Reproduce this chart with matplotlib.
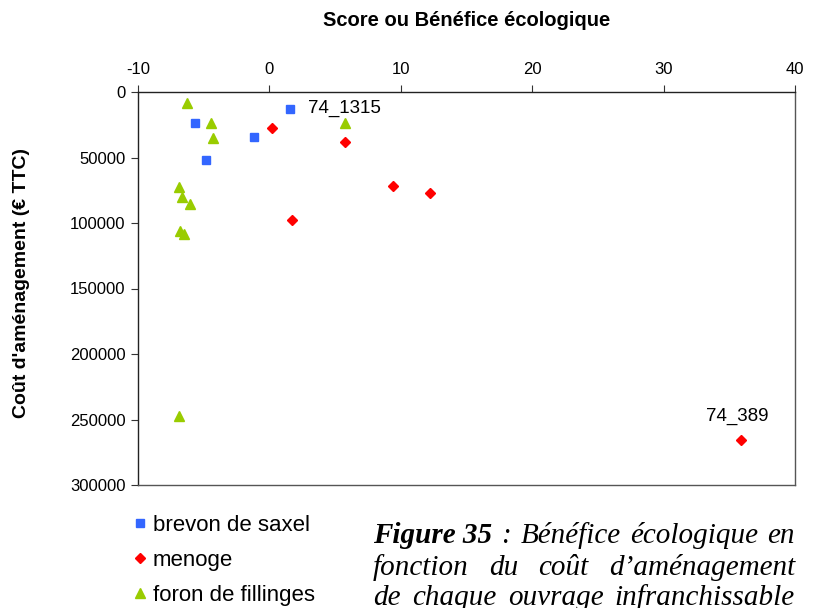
import matplotlib
matplotlib.use("Agg")
import matplotlib.pyplot as plt
from matplotlib.lines import Line2D

plt.rcParams['font.family'] = ['Liberation Sans', 'DejaVu Sans']
plt.rcParams['axes.unicode_minus'] = False

# score (x) and cost in euros (y) for each river
brevon_x = [-5.66, -1.15, -4.83, 1.59]
brevon_y = [23900, 34100, 51900, 12700]

menoge_x = [0.22, 5.73, 9.43, 1.74, 12.22, 35.9]
menoge_y = [27700, 37900, 71500, 97700, 77100, 265700]

foron_x = [-6.27, -4.42, -4.27, -6.9, -6.65, -6.04, -6.78, -6.5, 5.75, -6.88]
foron_y = [8600, 23400, 34900, 72800, 80400, 85500, 105900, 108400, 23400, 247300]

labelled = [("74_1315", brevon_x[3], brevon_y[3]), ("74_389", menoge_x[5], menoge_y[5])]

blue = "#3366ff"
red = "#ff0000"
green = "#99cc00"

fig = plt.figure(figsize=(8.15, 6.08), dpi=100)
ax = fig.add_axes([138/815, 1-485/608, (795-138)/815, (485-92)/608])

ax.plot(brevon_x, brevon_y, ls="none", marker="s", ms=6, color=blue, mec=blue)
ax.plot(menoge_x, menoge_y, ls="none", marker="D", ms=5.5, color=red, mec=red)
ax.plot(foron_x, foron_y, ls="none", marker="^", ms=7.5, color=green, mec=green)

ax.annotate(labelled[0][0], (labelled[0][1], labelled[0][2]), xytext=(13, 0),
            textcoords="offset points", ha="left", va="center", fontsize=13.5)
ax.annotate(labelled[1][0], (labelled[1][1], labelled[1][2]), xytext=(-3, 17),
            textcoords="offset points", ha="center", va="center", fontsize=13.5)

ax.set_xlim(-10, 40)
ax.set_ylim(300000, 0)
ax.set_xticks([-10, 0, 10, 20, 30, 40])
ax.set_yticks([0, 50000, 100000, 150000, 200000, 250000, 300000])
ax.xaxis.tick_top()
ax.xaxis.set_label_position("top")
ax.tick_params(axis="x", direction="out", length=5, labelsize=12, pad=6, color="#333333")
ax.tick_params(axis="y", direction="out", length=5, labelsize=12, pad=4, color="#333333")
for s in ax.spines.values():
    s.set_color("#555555")
    s.set_linewidth(1.0)
ax.spines["top"].set_color("#222222")
ax.spines["left"].set_color("#222222")

ax.set_xlabel("Score ou Bénéfice écologique", fontsize=14.5, fontweight="bold", labelpad=26)
fig.text(22/815, 1-283/608, "Coût d'aménagement (€ TTC)", rotation=90, fontsize=14,
         fontweight="bold", ha="center", va="center")

# legend under the plot
handles = [Line2D([], [], ls="none", marker="s", ms=6, color=blue),
           Line2D([], [], ls="none", marker="D", ms=5.5, color=red),
           Line2D([], [], ls="none", marker="^", ms=7.5, color=green)]
fig.legend(handles, ["brevon de saxel", "menoge", "foron de fillinges"],
           loc="upper left", bbox_to_anchor=(134/815, 1-515/608), frameon=False,
           fontsize=16, handlelength=0.5, handletextpad=0.35, labelspacing=0.62,
           borderaxespad=0, borderpad=0)

# justified italic caption on the right
lines = [[("Figure 35", "bold"), (":", "normal"), ("Bénéfice", "normal"), ("écologique", "normal"), ("en", "normal")],
         [("fonction", "normal"), ("du", "normal"), ("coût", "normal"), ("d\u2019aménagement", "normal")],
         [("de", "normal"), ("chaque", "normal"), ("ouvrage", "normal"), ("infranchissable", "normal")]]
x_left, x_right = 373, 795
baselines = [543, 575, 605]
renderer = fig.canvas.get_renderer()
for words, base in zip(lines, baselines):
    texts = []
    for w, weight in words:
        t = fig.text(0, 1-base/608, w, fontsize=21, family="Liberation Serif",
                     style="italic", fontweight=weight, va="baseline", ha="left")
        texts.append(t)
    widths = [t.get_window_extent(renderer).width for t in texts]
    gap = (x_right - x_left - sum(widths)) / (len(texts) - 1)
    x = x_left
    for t, w in zip(texts, widths):
        t.set_x(x/815)
        x += w + gap

fig.savefig("out.png", dpi=100)
